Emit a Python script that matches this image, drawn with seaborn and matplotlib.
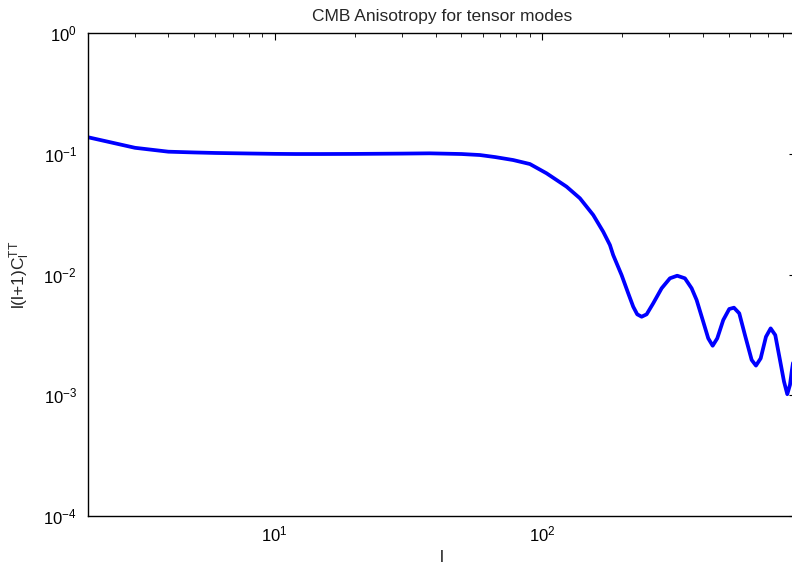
import numpy as np
import pandas as pd
import seaborn as sns
import matplotlib.pyplot as plt
from matplotlib.ticker import LogLocator

# multipole l and l(l+1)C_l^TT
ell = [2, 3, 4, 5, 6, 8, 10, 12, 15, 20, 30, 38, 50, 58.6, 67, 78.1, 90.2,
       104.1, 123.7, 138.8, 155.7, 169.7, 179.8, 184.9, 198.8, 210.5, 219.8,
       227.5, 236.3, 246.7, 261.2, 280.8, 301.6, 321.1, 343.2, 363.6, 379.6,
       401.9, 419.6, 435.9, 453.5, 477.6, 502.9, 523.7, 548.2, 575.8, 610.1,
       633.1, 659.3, 690.1, 718.6, 747.7, 778.6, 806.0, 829.3, 848.9, 861.4,
       894]
cl_tt = [0.137, 0.112, 0.104, 0.1025, 0.1015, 0.1005, 0.0998, 0.0995, 0.0995,
         0.0997, 0.1003, 0.1008, 0.0995, 0.0976, 0.0938, 0.0887, 0.0822,
         0.0689, 0.0534, 0.0428, 0.0311, 0.0226, 0.01755, 0.0145, 0.0099,
         0.00699, 0.00541, 0.00468, 0.00447, 0.00468, 0.00578, 0.00769,
         0.0093, 0.00977, 0.0093, 0.00769, 0.00615, 0.00406, 0.00296, 0.00257,
         0.00296, 0.0042, 0.00518, 0.00531, 0.00477, 0.00315, 0.00196,
         0.00176, 0.00202, 0.00305, 0.00358, 0.00315, 0.00196, 0.0013,
         0.00102, 0.00122, 0.00157, 0.0027]

df = pd.DataFrame({'l': ell, 'cl': cl_tt})

sns.set_style('white')
plt.rcParams['font.family'] = ['Liberation Sans', 'DejaVu Sans']
plt.rcParams['mathtext.default'] = 'regular'
plt.rcParams['mathtext.fontset'] = 'custom'
plt.rcParams['mathtext.rm'] = 'Liberation Sans'
plt.rcParams['mathtext.it'] = 'Liberation Sans'

fig = plt.figure(figsize=(7.92, 5.69), dpi=100)
# right edge of the box sits just past the image, as in the reference
ax = fig.add_axes([88/792, 53/569, 708/792, 483/569])

sns.lineplot(data=df, x='l', y='cl', ax=ax, color='#0000ff', linewidth=2.7,
             estimator=None, sort=False, solid_joinstyle='round',
             solid_capstyle='round')

ax.set_xscale('log')
ax.set_yscale('log')
ax.set_xlim(2, 894)
ax.set_ylim(1e-4, 1)
ax.yaxis.set_major_locator(LogLocator(base=10, numticks=10))
ax.yaxis.set_minor_locator(LogLocator(base=10, subs=np.arange(2, 10), numticks=20))

for s in ax.spines.values():
    s.set_color('black')
    s.set_linewidth(1.0)
ax.tick_params(which='both', direction='in', top=True, right=True,
               labelsize=12, colors='black')
ax.tick_params(which='major', length=5, width=0.8)
ax.tick_params(which='minor', length=3, width=0.6)
ax.tick_params(axis='x', which='major', pad=6)
ax.tick_params(axis='y', which='major', pad=8)

ax.set_title('CMB Anisotropy for tensor modes', fontsize=12.5, pad=9)
ax.set_xlabel('l', fontsize=12.5, labelpad=4)
ax.set_ylabel(r'l(l+1)C$_l^{TT}$', fontsize=12.5, labelpad=8)

fig.savefig('out.png', dpi=100)
